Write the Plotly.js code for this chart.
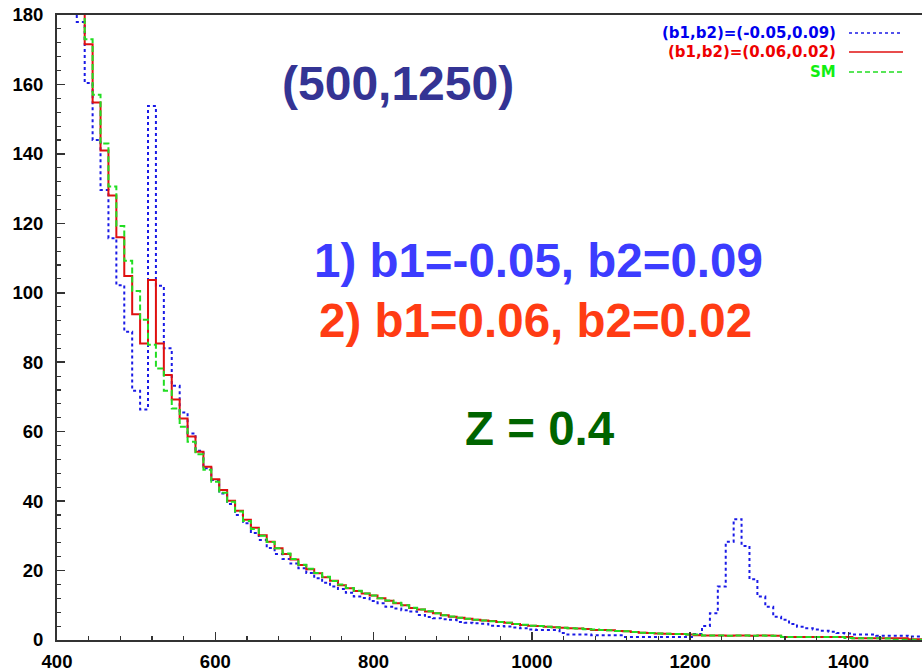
<!DOCTYPE html>
<html>
<head>
<meta charset="utf-8">
<script src="https://cdn.plot.ly/plotly-3.0.1.min.js"></script>
<style>html,body{margin:0;padding:0;background:#fff;overflow:hidden}#chart{width:922px;height:672px}</style>
</head>
<body>
<div id="chart"></div>
<script>
// Histogram bin width and first left edge of each series
const binWidth = 10;
const redStart = 425;
const greenStart = 425;
const blueStart = 415;

// (b1,b2)=(0.06,0.02)
const redValues = [
  195, 171.6, 154.8, 141.0, 128.0, 116.0, 104.8, 93.8, 85.4, 103.7,
  85.4, 76.3, 69.3, 63.8, 58.6, 54.2, 49.9, 46.3, 43.2, 40.1,
  37.2, 34.6, 32.3, 30.2, 28.3, 26.4, 24.8, 23.2, 21.6, 20.4,
  19.2, 18.1, 17.1, 15.8, 14.9, 14.1, 13.4, 12.8, 12.0, 11.3,
  10.6, 10.0, 9.2, 8.8, 8.2, 7.7, 7.1, 6.7, 6.4, 6.1,
  5.8, 5.6, 5.5, 5.2, 5.0, 4.6, 4.3, 4.1, 4.0, 3.8,
  3.7, 3.5, 3.4, 3.3, 3.2, 2.9, 2.9, 2.8, 2.6, 2.5,
  2.3, 2.1, 2.0, 1.9, 1.8, 1.7, 1.7, 1.6, 1.4, 1.3,
  1.3, 1.3, 1.2, 1.3, 1.3, 1.2, 1.3, 1.3, 1.2, 0.9,
  0.9, 0.9, 0.9, 0.9, 0.9, 0.9, 0.9, 0.9, 0.5, 0.5,
  0.5, 0.5, 0.5, 0.5, 0.5, 0.2, 0.2
];

// SM
const greenValues = [
  195, 173.0, 157.0, 143.0, 130.6, 119.2, 109.2, 100.5, 92.2, 85.0,
  78.2, 71.8, 66.7, 61.4, 57.1, 53.5, 49.0, 45.6, 42.4, 39.8,
  37.0, 34.3, 32.0, 30.0, 28.2, 26.4, 24.9, 23.3, 21.7, 20.5,
  19.3, 18.2, 17.0, 16.0, 15.0, 14.2, 13.4, 12.8, 12.0, 11.4,
  10.7, 10.0, 9.3, 8.8, 8.3, 7.7, 7.1, 6.8, 6.4, 6.1,
  5.8, 5.6, 5.4, 5.2, 5.0, 4.6, 4.4, 4.1, 4.0, 3.8,
  3.7, 3.5, 3.4, 3.3, 3.1, 3.0, 2.9, 2.8, 2.6, 2.5,
  2.3, 2.1, 2.0, 1.9, 1.8, 1.7, 1.7, 1.6, 1.6, 1.3,
  1.3, 1.3, 1.2, 1.3, 1.3, 1.2, 1.3, 1.2, 1.2, 0.9,
  0.9, 0.9, 0.9, 0.9, 0.9, 0.9, 0.9, 0.6, 0.5, 0.5,
  0.5, 0.5, 0.4, 0.1, 0.1, 0.1, 0.1
];

// (b1,b2)=(-0.05,0.09)
const blueValues = [
  195, 178, 160.4, 144.0, 129.6, 115.7, 102.2, 88.8, 71.8, 66.4,
  153.8, 102.0, 84.0, 73.2, 65.5, 59.5, 54.5, 49.5, 46.1, 42.2,
  39.2, 36.0, 33.6, 30.8, 28.8, 26.5, 24.8, 23.3, 22.0, 20.7,
  19.3, 17.8, 16.5, 15.4, 14.7, 13.6, 12.5, 12.1, 11.2, 10.6,
  9.6, 9.1, 8.6, 8.2, 7.2, 6.6, 6.3, 6.0, 5.8, 5.2,
  5.0, 4.8, 4.7, 4.1, 4.0, 3.9, 3.6, 3.4, 3.0, 2.9,
  2.9, 2.9, 2.0, 1.6, 1.6, 1.6, 1.4, 1.4, 1.4, 1.4,
  0.9, 0.9, 0.9, 0.9, 0.9, 0.9, 0.9, 0.9, 0.9, 1.7,
  4.0, 7.7, 15.4, 28.3, 34.8, 27.1, 17.5, 12.5, 9.6, 6.7,
  5.8, 4.6, 3.8, 3.4, 3.0, 2.7, 2.4, 2.0, 1.9, 1.6,
  1.6, 1.6, 1.25, 1.25, 1.25, 1.25, 1.0, 1.0
];

const seriesNames = ["(b1,b2)=(-0.05,0.09)", "(b1,b2)=(0.06,0.02)", "SM"];
const xTickVals = [400, 600, 800, 1000, 1200, 1400];
const yTickVals = [0, 20, 40, 60, 80, 100, 120, 140, 160, 180];

// step outline: left edges of every bin plus the final right edge
function stepTrace(start, vals, name, color, dash, width) {
  const x = [], y = [];
  for (let i = 0; i < vals.length; i++) { x.push(start + i * binWidth); y.push(vals[i]); }
  x.push(start + vals.length * binWidth); y.push(vals[vals.length - 1]);
  return {x: x, y: y, type: 'scatter', mode: 'lines', name: name, showlegend: false,
          line: {shape: 'hv', color: color, dash: dash, width: width}, hoverinfo: 'skip'};
}

const traces = [
  stepTrace(blueStart, blueValues, seriesNames[0], '#1a1ae6', 'dot', 2),
  stepTrace(redStart, redValues, seriesNames[1], '#e01010', 'solid', 2),
  stepTrace(greenStart, greenValues, seriesNames[2], '#22dd22', '6px,3px', 2)
];

const tickFont = {family: 'Liberation Sans, Arial, sans-serif', size: 18.5, color: '#000', weight: 'bold'};
const legFont = (c) => ({family: 'DejaVu Sans, sans-serif', size: 15, color: c, weight: 'bold'});
const bigFont = (c, s) => ({family: 'Liberation Sans, Arial, sans-serif', size: s, color: c, weight: 'bold'});

const L = 57, W = 865, T = 15, H = 625;
const px = (p) => (p - L) / W;
const py = (p) => (T + H - p) / H;

const layout = {
  width: 922, height: 672,
  margin: {l: L, r: 0, t: T, b: 32, pad: 0},
  paper_bgcolor: '#fff', plot_bgcolor: '#fff',
  xaxis: {
    range: [400, 1493], showgrid: false, zeroline: false,
    showline: true, linecolor: '#333', linewidth: 2, mirror: true,
    tickmode: 'array', tickvals: xTickVals, ticktext: xTickVals.map(String),
    ticks: 'inside', ticklen: 8, tickwidth: 1.5, tickcolor: '#333',
    minor: {tickmode: 'linear', tick0: 400, dtick: 40, ticks: 'inside', ticklen: 4, tickwidth: 1.2, tickcolor: '#333', showgrid: false},
    tickfont: tickFont, ticklabelstandoff: 4
  },
  yaxis: {
    range: [0, 180], showgrid: false, zeroline: false,
    showline: true, linecolor: '#333', linewidth: 2, mirror: false,
    tickmode: 'array', tickvals: yTickVals, ticktext: yTickVals.map(String),
    ticks: 'inside', ticklen: 8, tickwidth: 1.5, tickcolor: '#333',
    minor: {tickmode: 'linear', tick0: 0, dtick: 4, ticks: 'inside', ticklen: 4, tickwidth: 1.2, tickcolor: '#333', showgrid: false},
    tickfont: tickFont, ticklabelstandoff: 8
  },
  annotations: [
    {text: seriesNames[0], xref: 'paper', yref: 'paper', x: px(838), y: py(33), xanchor: 'right', yanchor: 'middle', showarrow: false, font: legFont('#0000ee')},
    {text: seriesNames[1], xref: 'paper', yref: 'paper', x: px(838), y: py(52), xanchor: 'right', yanchor: 'middle', showarrow: false, font: legFont('#ee0000')},
    {text: seriesNames[2], xref: 'paper', yref: 'paper', x: px(838), y: py(72), xanchor: 'right', yanchor: 'middle', showarrow: false, font: legFont('#11ee11')},
    {text: '(500,1250)', xref: 'paper', yref: 'paper', x: px(398), y: py(83), xanchor: 'center', yanchor: 'middle', showarrow: false, font: bigFont('#343494', 48)},
    {text: '1) b1=-0.05, b2=0.09', xref: 'paper', yref: 'paper', x: px(538), y: py(260), xanchor: 'center', yanchor: 'middle', showarrow: false, font: bigFont('#3c3cff', 47.5)},
    {text: '2) b1=0.06, b2=0.02', xref: 'paper', yref: 'paper', x: px(535), y: py(320), xanchor: 'center', yanchor: 'middle', showarrow: false, font: bigFont('#ff3c14', 47.5)},
    {text: 'Z = 0.4', xref: 'paper', yref: 'paper', x: px(540), y: py(428), xanchor: 'center', yanchor: 'middle', showarrow: false, font: bigFont('#006400', 47.5)}
  ],
  shapes: [
    {type: 'line', xref: 'paper', yref: 'paper', x0: px(849), x1: px(903), y0: py(33), y1: py(33), line: {color: '#1a1ae6', width: 1.5, dash: 'dot'}},
    {type: 'line', xref: 'paper', yref: 'paper', x0: px(849), x1: px(903), y0: py(52), y1: py(52), line: {color: '#e01010', width: 1.5, dash: 'solid'}},
    {type: 'line', xref: 'paper', yref: 'paper', x0: px(849), x1: px(903), y0: py(72), y1: py(72), line: {color: '#22dd22', width: 1.5, dash: '5px,3px'}}
  ]
};

Plotly.newPlot('chart', traces, layout, {displayModeBar: false, staticPlot: true});
</script>
</body>
</html>
